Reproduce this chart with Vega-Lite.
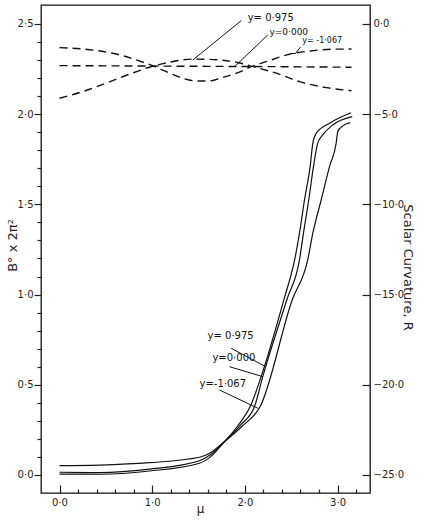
{
  "$schema": "https://vega.github.io/schema/vega-lite/v6.json",
  "width": 329,
  "height": 488,
  "autosize": {"type": "none"},
  "padding": {"left": 41, "top": 5, "right": 61, "bottom": 27},
  "background": "white",
  "config": {
    "view": {"stroke": "#111", "strokeWidth": 1.3},
    "font": "DejaVu Sans",
    "axis": {
      "labelFont": "DejaVu Sans",
      "labelFontSize": 10,
      "labelColor": "#222",
      "tickColor": "#222",
      "tickWidth": 1.2,
      "titleFont": "DejaVu Sans",
      "titleFontWeight": "normal",
      "titleColor": "#222",
      "grid": false,
      "domain": false,
      "labelOverlap": false,
      "labelFlush": false
    }
  },
  "datasets": {
    "solid": [
      {"mu": 0.0, "B": 0.005, "s": "y=0.975"},
      {"mu": 0.43, "B": 0.004, "s": "y=0.975"},
      {"mu": 0.97, "B": 0.022, "s": "y=0.975"},
      {"mu": 1.51, "B": 0.065, "s": "y=0.975"},
      {"mu": 1.62, "B": 0.096, "s": "y=0.975"},
      {"mu": 1.78, "B": 0.185, "s": "y=0.975"},
      {"mu": 1.92, "B": 0.27, "s": "y=0.975"},
      {"mu": 2.057, "B": 0.379, "s": "y=0.975"},
      {"mu": 2.21, "B": 0.6, "s": "y=0.975"},
      {"mu": 2.42, "B": 0.97, "s": "y=0.975"},
      {"mu": 2.54, "B": 1.2, "s": "y=0.975"},
      {"mu": 2.589, "B": 1.34, "s": "y=0.975"},
      {"mu": 2.643, "B": 1.524, "s": "y=0.975"},
      {"mu": 2.704, "B": 1.709, "s": "y=0.975"},
      {"mu": 2.733, "B": 1.839, "s": "y=0.975"},
      {"mu": 2.769, "B": 1.894, "s": "y=0.975"},
      {"mu": 2.913, "B": 1.95, "s": "y=0.975"},
      {"mu": 3.147, "B": 2.008, "s": "y=0.975"},

      {"mu": 0.0, "B": 0.015, "s": "y=0.000"},
      {"mu": 0.43, "B": 0.013, "s": "y=0.000"},
      {"mu": 0.97, "B": 0.032, "s": "y=0.000"},
      {"mu": 1.51, "B": 0.079, "s": "y=0.000"},
      {"mu": 1.62, "B": 0.109, "s": "y=0.000"},
      {"mu": 1.78, "B": 0.185, "s": "y=0.000"},
      {"mu": 1.95, "B": 0.275, "s": "y=0.000"},
      {"mu": 2.104, "B": 0.379, "s": "y=0.000"},
      {"mu": 2.193, "B": 0.545, "s": "y=0.000"},
      {"mu": 2.452, "B": 0.97, "s": "y=0.000"},
      {"mu": 2.589, "B": 1.192, "s": "y=0.000"},
      {"mu": 2.632, "B": 1.34, "s": "y=0.000"},
      {"mu": 2.689, "B": 1.524, "s": "y=0.000"},
      {"mu": 2.74, "B": 1.709, "s": "y=0.000"},
      {"mu": 2.786, "B": 1.839, "s": "y=0.000"},
      {"mu": 2.84, "B": 1.885, "s": "y=0.000"},
      {"mu": 2.948, "B": 1.94, "s": "y=0.000"},
      {"mu": 3.158, "B": 1.986, "s": "y=0.000"},

      {"mu": 0.0, "B": 0.052, "s": "y=-1.067"},
      {"mu": 0.43, "B": 0.055, "s": "y=-1.067"},
      {"mu": 0.97, "B": 0.068, "s": "y=-1.067"},
      {"mu": 1.51, "B": 0.098, "s": "y=-1.067"},
      {"mu": 1.62, "B": 0.12, "s": "y=-1.067"},
      {"mu": 1.78, "B": 0.185, "s": "y=-1.067"},
      {"mu": 1.97, "B": 0.27, "s": "y=-1.067"},
      {"mu": 2.165, "B": 0.379, "s": "y=-1.067"},
      {"mu": 2.51, "B": 0.97, "s": "y=-1.067"},
      {"mu": 2.678, "B": 1.192, "s": "y=-1.067"},
      {"mu": 2.733, "B": 1.34, "s": "y=-1.067"},
      {"mu": 2.823, "B": 1.524, "s": "y=-1.067"},
      {"mu": 2.913, "B": 1.709, "s": "y=-1.067"},
      {"mu": 2.985, "B": 1.839, "s": "y=-1.067"},
      {"mu": 3.002, "B": 1.903, "s": "y=-1.067"},
      {"mu": 3.056, "B": 1.935, "s": "y=-1.067"},
      {"mu": 3.136, "B": 1.953, "s": "y=-1.067"}
    ],
    "curvature": [
      {"mu": 0.0, "R": -1.31, "s": "y=-1.067"},
      {"mu": 0.25, "R": -1.39, "s": "y=-1.067"},
      {"mu": 0.47, "R": -1.53, "s": "y=-1.067"},
      {"mu": 0.68, "R": -1.76, "s": "y=-1.067"},
      {"mu": 0.86, "R": -2.05, "s": "y=-1.067"},
      {"mu": 1.03, "R": -2.37, "s": "y=-1.067"},
      {"mu": 1.19, "R": -2.73, "s": "y=-1.067"},
      {"mu": 1.33, "R": -3.01, "s": "y=-1.067"},
      {"mu": 1.48, "R": -3.16, "s": "y=-1.067"},
      {"mu": 1.62, "R": -3.16, "s": "y=-1.067"},
      {"mu": 1.73, "R": -3.01, "s": "y=-1.067"},
      {"mu": 1.91, "R": -2.73, "s": "y=-1.067"},
      {"mu": 2.07, "R": -2.37, "s": "y=-1.067"},
      {"mu": 2.23, "R": -2.09, "s": "y=-1.067"},
      {"mu": 2.48, "R": -1.68, "s": "y=-1.067"},
      {"mu": 2.7, "R": -1.5, "s": "y=-1.067"},
      {"mu": 2.95, "R": -1.4, "s": "y=-1.067"},
      {"mu": 3.15, "R": -1.39, "s": "y=-1.067"},

      {"mu": 0.0, "R": -4.12, "s": "y=0.975"},
      {"mu": 0.25, "R": -3.75, "s": "y=0.975"},
      {"mu": 0.5, "R": -3.29, "s": "y=0.975"},
      {"mu": 0.75, "R": -2.79, "s": "y=0.975"},
      {"mu": 0.97, "R": -2.4, "s": "y=0.975"},
      {"mu": 1.19, "R": -2.12, "s": "y=0.975"},
      {"mu": 1.44, "R": -1.95, "s": "y=0.975"},
      {"mu": 1.6, "R": -1.96, "s": "y=0.975"},
      {"mu": 1.73, "R": -2.0, "s": "y=0.975"},
      {"mu": 1.91, "R": -2.12, "s": "y=0.975"},
      {"mu": 2.09, "R": -2.37, "s": "y=0.975"},
      {"mu": 2.34, "R": -2.73, "s": "y=0.975"},
      {"mu": 2.59, "R": -3.2, "s": "y=0.975"},
      {"mu": 2.88, "R": -3.53, "s": "y=0.975"},
      {"mu": 3.15, "R": -3.7, "s": "y=0.975"},

      {"mu": 0.0, "R": -2.31, "s": "y=0.000"},
      {"mu": 0.8, "R": -2.33, "s": "y=0.000"},
      {"mu": 1.6, "R": -2.35, "s": "y=0.000"},
      {"mu": 2.4, "R": -2.37, "s": "y=0.000"},
      {"mu": 3.15, "R": -2.4, "s": "y=0.000"}
    ],
    "notes": [
      {"text": "y= 0·975", "mu": 2.03, "B": 2.533, "size": 10},
      {"text": "y=0·000", "mu": 2.265, "B": 2.458, "size": 9},
      {"text": "y= -1·067", "mu": 2.62, "B": 2.405, "size": 8},
      {"text": "y= 0·975", "mu": 1.597, "B": 0.771, "size": 10},
      {"text": "y=0·000", "mu": 1.65, "B": 0.649, "size": 10},
      {"text": "y=-1·067", "mu": 1.51, "B": 0.504, "size": 10}
    ],
    "leaders": [
      {"mu": 1.96, "B": 2.518, "mu2": 1.438, "B2": 2.3},
      {"mu": 2.247, "B": 2.439, "mu2": 1.888, "B2": 2.263},
      {"mu": 2.6, "B": 2.372, "mu2": 2.545, "B2": 2.336},
      {"mu": 2.545, "B": 2.336, "mu2": 2.5, "B2": 2.336},
      {"mu": 1.852, "B": 0.702, "mu2": 2.211, "B2": 0.604},
      {"mu": 1.834, "B": 0.6, "mu2": 2.193, "B2": 0.545},
      {"mu": 1.726, "B": 0.471, "mu2": 2.139, "B2": 0.37}
    ]
  },
  "layer": [
    {
      "data": {"name": "solid"},
      "mark": {"type": "line", "interpolate": "monotone", "color": "#111", "strokeWidth": 1.2},
      "encoding": {
        "x": {
          "field": "mu", "type": "quantitative",
          "scale": {"domain": [-0.2, 3.35], "nice": false, "zero": false},
          "axis": {
            "orient": "bottom",
            "title": "μ",
            "titleFontSize": 12,
            "titleX": 159,
            "titleY": 15,
            "titleBaseline": "middle",
            "values": [0, 1, 2, 3],
            "labelExpr": "replace(format(datum.value, '.1f'), '.', '·')",
            "tickSize": -8,
            "labelPadding": 12
          }
        },
        "y": {
          "field": "B", "type": "quantitative",
          "scale": {"domain": [-0.1, 2.605], "nice": false, "zero": false},
          "axis": {
            "orient": "left",
            "title": "B° x 2π²",
            "titleFontSize": 13,
            "titleX": -29,
            "titleY": 240,
            "titleAngle": -90,
            "titleBaseline": "middle",
            "values": [0, 0.5, 1, 1.5, 2, 2.5],
            "labelExpr": "replace(format(datum.value, '.1f'), '.', '·')",
            "tickSize": 7,
            "labelPadding": 1
          }
        },
        "detail": {"field": "s"}
      }
    },
    {
      "data": {"name": "curvature"},
      "mark": {"type": "line", "interpolate": "monotone", "color": "#111", "strokeWidth": 1.4, "strokeDash": [8, 5]},
      "encoding": {
        "x": {"field": "mu", "type": "quantitative", "scale": {"domain": [-0.2, 3.35], "nice": false, "zero": false}, "axis": null},
        "y": {
          "field": "R", "type": "quantitative",
          "scale": {"domain": [-26, 1.05], "nice": false, "zero": false},
          "axis": {
            "orient": "right",
            "title": "Scalar Curvature, R",
            "titleFontSize": 13,
            "titleAngle": 90,
            "titleX": 37,
            "titleY": 262,
            "titleBaseline": "middle",
            "values": [0, -5, -10, -15, -20, -25],
            "labelExpr": "replace(format(datum.value, '.1f'), '.', '·')",
            "tickSize": -8,
            "labelPadding": 11
          }
        },
        "detail": {"field": "s"}
      }
    },
    {
      "encoding": {
        "x": {
          "field": "mu", "type": "quantitative",
          "scale": {"domain": [-0.2, 3.35], "nice": false, "zero": false},
          "axis": {
            "orient": "bottom",
            "title": null,
            "labels": false,
            "values": [0.2, 0.4, 0.6, 0.8, 1.2, 1.4, 1.6, 1.8, 2.2, 2.4, 2.6, 2.8, 3.2],
            "tickSize": -4
          }
        },
        "y": {
          "field": "B", "type": "quantitative",
          "scale": {"domain": [-0.1, 2.605], "nice": false, "zero": false},
          "axis": {
            "orient": "left",
            "title": null,
            "labels": false,
            "values": [0.1, 0.2, 0.3, 0.4, 0.6, 0.7, 0.8, 0.9, 1.1, 1.2, 1.3, 1.4, 1.6, 1.7, 1.8, 1.9, 2.1, 2.2, 2.3, 2.4],
            "tickSize": 4
          }
        }
      },
      "layer": [
        {
          "data": {"name": "leaders"},
          "mark": {"type": "rule", "color": "#111", "strokeWidth": 1},
          "encoding": {
            "x2": {"field": "mu2"},
            "y2": {"field": "B2"}
          }
        },
        {
          "data": {"name": "notes"},
          "mark": {"type": "text", "align": "left", "baseline": "middle", "color": "#111", "font": "DejaVu Sans"},
          "encoding": {
            "text": {"field": "text"},
            "size": {"field": "size", "type": "quantitative", "scale": null}
          }
        }
      ]
    }
  ],
  "resolve": {"scale": {"y": "independent"}, "axis": {"x": "independent", "y": "independent"}}
}
